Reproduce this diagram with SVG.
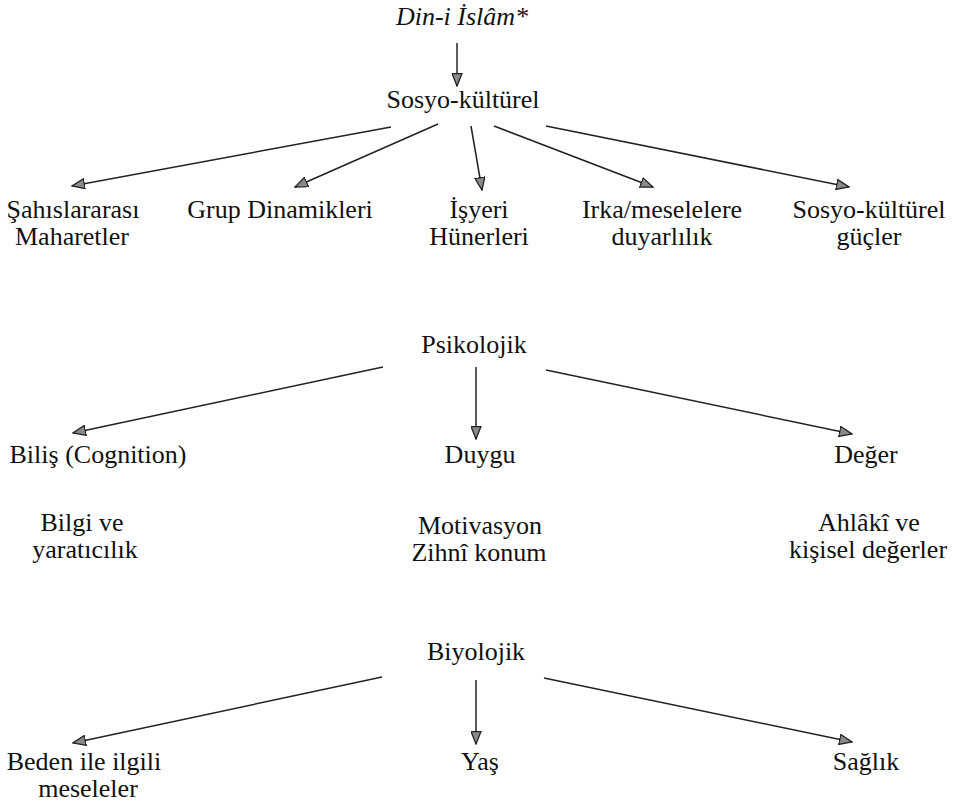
<svg xmlns="http://www.w3.org/2000/svg" width="964" height="804" viewBox="0 0 964 804">
<style>
text{font-family:'Liberation Serif','Times New Roman',serif;font-size:26px;fill:#111;text-anchor:middle}
.it{font-style:italic}
.c{stroke:#222;stroke-width:1.5;fill:none;marker-end:url(#ah)}
</style>
<defs>
<marker id="ah" viewBox="0 0 14 11" refX="13" refY="5.5" markerWidth="14" markerHeight="11" markerUnits="userSpaceOnUse" orient="auto">
<path d="M0.5,0.5 L13,5.5 L0.5,10.5 Z" fill="#8a8a8a" stroke="#222" stroke-width="1.3"/>
</marker>
</defs>
<rect width="964" height="804" fill="#fff"/>
<g id="connectors">
<line class="c" x1="457" y1="43" x2="457" y2="86"/>
<line class="c" x1="391" y1="127" x2="72" y2="186"/>
<line class="c" x1="438" y1="124" x2="295" y2="187"/>
<line class="c" x1="471" y1="126" x2="482" y2="190"/>
<line class="c" x1="494" y1="126" x2="653" y2="187"/>
<line class="c" x1="546" y1="126" x2="849" y2="187"/>
<line class="c" x1="383" y1="367" x2="73" y2="433"/>
<line class="c" x1="476" y1="367" x2="476" y2="439"/>
<line class="c" x1="546" y1="370" x2="852" y2="434"/>
<line class="c" x1="382" y1="677" x2="73" y2="743"/>
<line class="c" x1="476" y1="680" x2="476" y2="744"/>
<line class="c" x1="544" y1="678" x2="852" y2="742"/>
</g>
<g id="din"><text class="it" x="462" y="25">Din-i İslâm*</text></g>
<g id="sosyo"><text x="463" y="108">Sosyo-kültürel</text></g>
<g id="sahis"><text x="73" y="218">Şahıslararası</text><text x="72" y="245">Maharetler</text></g>
<g id="grup"><text x="280" y="218">Grup Dinamikleri</text></g>
<g id="isyeri"><text x="479" y="218">İşyeri</text><text x="479" y="245">Hünerleri</text></g>
<g id="irka"><text x="662" y="218">Irka/meselelere</text><text x="662" y="245">duyarlılık</text></g>
<g id="sosyoguc"><text x="869" y="218">Sosyo-kültürel</text><text x="869" y="245">güçler</text></g>
<g id="psiko"><text x="474" y="353">Psikolojik</text></g>
<g id="bilis"><text x="98" y="463">Biliş (Cognition)</text></g>
<g id="duygu"><text x="480" y="463">Duygu</text></g>
<g id="deger"><text x="866" y="463">Değer</text></g>
<g id="bilgi"><text x="82" y="531">Bilgi ve</text><text x="85" y="558">yaratıcılık</text></g>
<g id="motiv"><text x="480" y="534">Motivasyon</text><text x="479" y="561">Zihnî konum</text></g>
<g id="ahlak"><text x="869" y="531">Ahlâkî ve</text><text x="868" y="558">kişisel değerler</text></g>
<g id="biyo"><text x="476" y="660">Biyolojik</text></g>
<g id="beden"><text x="84" y="770">Beden ile ilgili</text><text x="88" y="797">meseleler</text></g>
<g id="yas"><text x="480" y="770">Yaş</text></g>
<g id="saglik"><text x="866" y="770">Sağlık</text></g>
</svg>
